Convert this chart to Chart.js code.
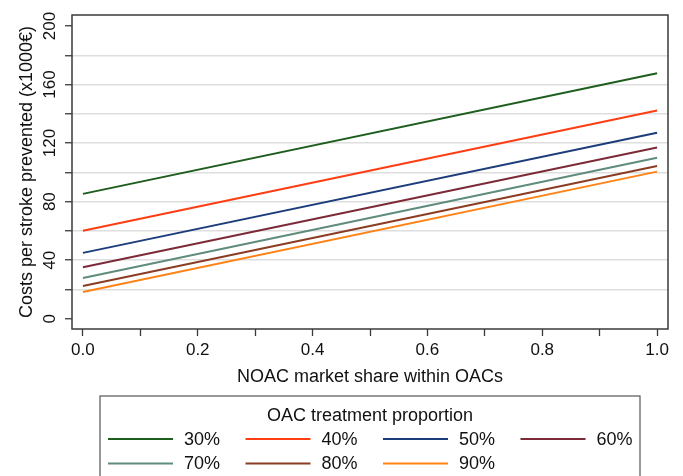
<!DOCTYPE html>
<html>
<head>
<meta charset="utf-8">
<script src="https://cdn.jsdelivr.net/npm/chart.js@4/dist/chart.umd.min.js"></script>
<style>
  html, body { margin: 0; padding: 0; background: #fff; }
  #wrap { width: 683px; height: 476px; }
</style>
</head>
<body>
<div id="wrap"><canvas id="chart" width="683" height="476"></canvas></div>
<script>
// NOAC market share (x) at the two ends of each line
var marketShare = [0, 1];

var proportions = ["30%", "40%", "50%", "60%", "70%", "80%", "90%"];
var colors = ["#1d5d1d", "#ff3d12", "#1c3c7a", "#7c2a38", "#5f8c7b", "#8b3c22", "#ff8214"];

// costs per stroke prevented (x1000 EUR) at share 0 and share 1
var cost30 = [85.3, 167.7];
var cost40 = [60.1, 142.3];
var cost50 = [45.0, 127.1];
var cost60 = [35.2, 117.0];
var cost70 = [27.9, 110.0];
var cost80 = [22.4, 104.4];
var cost90 = [18.3, 100.5];
var series = [cost30, cost40, cost50, cost60, cost70, cost80, cost90];

var xTicks = [0, 0.1, 0.2, 0.3, 0.4, 0.5, 0.6, 0.7, 0.8, 0.9, 1.0];
var xLabels = [0, 0.2, 0.4, 0.6, 0.8, 1.0];
var yTicks = [0, 20, 40, 60, 80, 100, 120, 140, 160, 180, 200];
var yLabels = [0, 40, 80, 120, 160, 200];

var FONT = "'Liberation Sans', Arial, sans-serif";
var FRAME = "#3a3a3a";

var datasets = series.map(function (values, i) {
  return {
    label: proportions[i],
    data: values.map(function (v, j) { return { x: marketShare[j], y: v }; }),
    borderColor: colors[i],
    backgroundColor: colors[i],
    borderWidth: 2,
    pointRadius: 0,
    fill: false
  };
});

function isLabel(list, v) {
  return list.some(function (l) { return Math.abs(l - v) < 1e-9; });
}

// frame around the plot region
var framePlugin = {
  id: "frame",
  afterDatasetsDraw: function (chart) {
    var a = chart.chartArea, ctx = chart.ctx;
    ctx.save();
    ctx.strokeStyle = FRAME;
    ctx.lineWidth = 1.5;
    ctx.strokeRect(a.left, a.top, a.right - a.left, a.bottom - a.top);
    ctx.restore();
  }
};

// boxed legend below the axis title, four keys per row
var legendPlugin = {
  id: "boxLegend",
  afterDraw: function (chart) {
    var ctx = chart.ctx;
    var boxLeft = 100, boxTop = 396, boxRight = 640;
    ctx.save();
    ctx.strokeStyle = "#555";
    ctx.lineWidth = 1.2;
    ctx.strokeRect(boxLeft, boxTop, boxRight - boxLeft, 100);
    ctx.fillStyle = "#111";
    ctx.font = "18px " + FONT;
    ctx.textAlign = "center";
    ctx.textBaseline = "middle";
    ctx.fillText("OAC treatment proportion", (boxLeft + boxRight) / 2, 416);
    ctx.textAlign = "left";
    chart.data.datasets.forEach(function (ds, i) {
      var col = i % 4, row = Math.floor(i / 4);
      var x = 108 + col * 137.5;
      var y = 439 + row * 24.5;
      ctx.strokeStyle = ds.borderColor;
      ctx.lineWidth = 2;
      ctx.beginPath();
      ctx.moveTo(x, y);
      ctx.lineTo(x + 65, y);
      ctx.stroke();
      ctx.fillStyle = "#111";
      ctx.fillText(ds.label, x + 76, y + 1);
    });
    ctx.restore();
  }
};

new Chart(document.getElementById("chart"), {
  type: "line",
  data: { datasets: datasets },
  plugins: [framePlugin, legendPlugin],
  options: {
    responsive: false,
    animation: false,
    layout: { padding: { top: 15, right: 15, bottom: 85, left: 0 } },
    plugins: {
      legend: { display: false },
      tooltip: { enabled: false }
    },
    scales: {
      x: {
        type: "linear",
        min: -0.019,
        max: 1.019,
        afterBuildTicks: function (scale) {
          scale.ticks = xTicks.map(function (v) { return { value: v }; });
        },
        afterFit: function (scale) { scale.height = 62; },
        border: { display: false },
        grid: {
          drawOnChartArea: false,
          drawTicks: true,
          tickLength: 7,
          tickColor: FRAME,
          tickWidth: 1.3
        },
        ticks: {
          autoSkip: false,
          maxRotation: 0,
          padding: 4,
          color: "#111",
          font: { family: FONT, size: 17 },
          callback: function (v) { return isLabel(xLabels, v) ? v.toFixed(1) : ""; }
        },
        title: {
          display: true,
          text: "NOAC market share within OACs",
          color: "#111",
          font: { family: FONT, size: 18 },
          padding: { top: 0, bottom: 3 }
        }
      },
      y: {
        type: "linear",
        min: -7,
        max: 207.5,
        afterBuildTicks: function (scale) {
          scale.ticks = yTicks.map(function (v) { return { value: v }; });
        },
        afterFit: function (scale) { scale.width = 72; },
        border: { display: false },
        grid: {
          color: function (c) {
            var v = c.tick ? c.tick.value : null;
            return (v === 0 || v === 200) ? "rgba(0,0,0,0)" : "#dedede";
          },
          lineWidth: 1.5,
          drawTicks: true,
          tickLength: 7,
          tickColor: FRAME,
          tickWidth: 1.3
        },
        ticks: {
          autoSkip: false,
          minRotation: 90,
          maxRotation: 90,
          crossAlign: "center",
          padding: 1,
          color: "#111",
          font: { family: FONT, size: 17 },
          callback: function (v) { return isLabel(yLabels, v) ? String(v) : ""; }
        },
        title: {
          display: true,
          text: "Costs per stroke prevented (x1000€)",
          color: "#111",
          font: { family: FONT, size: 18 },
          padding: { top: 16, bottom: 0 }
        }
      }
    }
  }
});
</script>
</body>
</html>
